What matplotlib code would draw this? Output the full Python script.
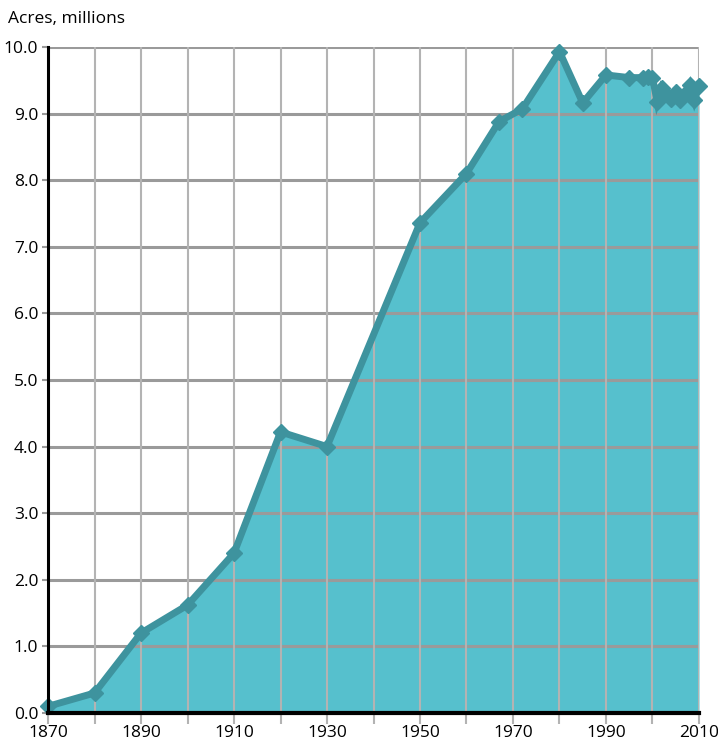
import matplotlib.pyplot as plt
import numpy as np

# Acreage (millions) by year
years = [1870, 1880, 1890, 1900, 1910, 1920, 1930, 1950, 1960, 1967, 1972,
         1980, 1985, 1990, 1995, 1998, 1999, 2000, 2001, 2002, 2003, 2004,
         2005, 2006, 2007, 2008, 2009, 2010]
acres = [0.1, 0.3, 1.2, 1.62, 2.4, 4.22, 4.0, 7.36, 8.1, 8.88, 9.07,
         9.93, 9.16, 9.58, 9.54, 9.54, 9.55, 9.54, 9.18, 9.39, 9.30, 9.22,
         9.32, 9.21, 9.30, 9.43, 9.20, 9.41]

x_ticks = list(range(1870, 2011, 10))
x_labels = [str(y) if (y - 1870) % 20 == 0 else '' for y in x_ticks]
y_ticks = np.arange(0, 10.5, 1.0)

fill_color = '#56c0cd'
line_color = '#3e939e'

plt.rcParams['font.family'] = ['Open Sans', 'DejaVu Sans']

fig = plt.figure(figsize=(7.18, 7.48), dpi=100)
ax = fig.add_axes([0.0669, 0.0468, 0.9066, 0.8904])

ax.fill_between(years, acres, 0, color=fill_color, linewidth=0, zorder=1)

# grid drawn by hand so horizontal and vertical lines can differ
for y in y_ticks[1:]:
    ax.axhline(y, color='#9a9a9a', linewidth=2.2, zorder=2)
for x in x_ticks[1:]:
    ax.axvline(x, color='#b3b3b3', linewidth=1.5, zorder=2)

ax.plot(years, acres, color=line_color, linewidth=5, marker='D',
        markersize=8, solid_joinstyle='miter', zorder=3, clip_on=False)

ax.set_xlim(1870, 2010)
ax.set_ylim(0, 10)
ax.set_xticks(x_ticks)
ax.set_xticklabels(x_labels, fontsize=12.5)
ax.set_yticks(y_ticks)
ax.set_yticklabels([f'{v:.1f}' for v in y_ticks], fontsize=12.5)

ax.tick_params(axis='x', length=8, width=1.5, color='#b3b3b3', pad=1)
ax.tick_params(axis='y', length=4, width=1.5, color='#9a9a9a', pad=3)

for side in ['top', 'right']:
    ax.spines[side].set_visible(False)
ax.spines['left'].set_linewidth(2.2)
ax.spines['bottom'].set_linewidth(3)
ax.spines['left'].set_zorder(4)
ax.spines['bottom'].set_zorder(4)

fig.text(0.011, 0.985, 'Acres, millions', fontsize=12.5, va='top', ha='left')

fig.savefig('out.png', dpi=100)
